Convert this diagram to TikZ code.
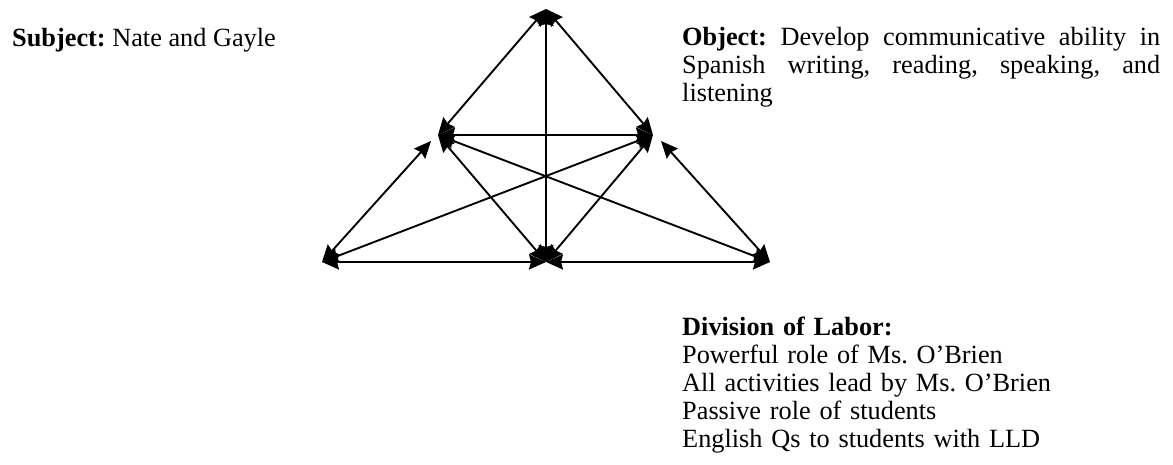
\documentclass[tikz,border=0pt]{standalone}
\usepackage{fontspec}
\setmainfont{Liberation Serif}
\usetikzlibrary{arrows.meta}
\tikzset{
  tip/.tip={Stealth[length=17pt,width=15pt,inset=2pt]},
  link/.style={line width=1.9pt, tip-tip},
  txt/.style={inner sep=0pt, font=\fontsize{26.3}{28}\selectfont\frenchspacing}
}
\begin{document}
\begin{tikzpicture}[x=1pt,y=-1pt]
\useasboundingbox (0,0) rectangle (1173,464);
\coordinate (T) at (546,9);
\coordinate (ML) at (438,135);
\coordinate (MR) at (653,135);
\coordinate (MLs) at (431,141);
\coordinate (MRs) at (661,141);
\coordinate (BL) at (322,262);
\coordinate (BM) at (546,262);
\coordinate (BR) at (770,262);
\draw[link] (T) -- (ML);
\draw[link] (T) -- (MR);
\draw[link] (T) -- (BM);
\draw[link] (ML) -- (MR);
\draw[link] (BL) -- (MLs);
\draw[link] (BR) -- (MRs);
\draw[link] (ML) -- (BM);
\draw[link] (MR) -- (BM);
\draw[link] (ML) -- (BR);
\draw[link] (MR) -- (BL);
\draw[link] (BL) -- (BM);
\draw[link] (BM) -- (BR);
\node[txt, anchor=base west] (subj) at (12,46) {\textbf{Subject:} Nate and Gayle};
\node[txt, anchor=base west, text width=478pt, align=justify] (obj) at (682,45)
  {\textbf{Object:} Develop communicative ability in\linebreak Spanish writing, reading, speaking, and\linebreak listening};
\node[txt, anchor=base west, text width=450pt, align=left] (div) at (682,335)
  {\textbf{Division of Labor:}\\ Powerful role of Ms. O’Brien\\ All activities lead by Ms. O’Brien\\ Passive role of students\\ English Qs to students with LLD};
\end{tikzpicture}
\end{document}
